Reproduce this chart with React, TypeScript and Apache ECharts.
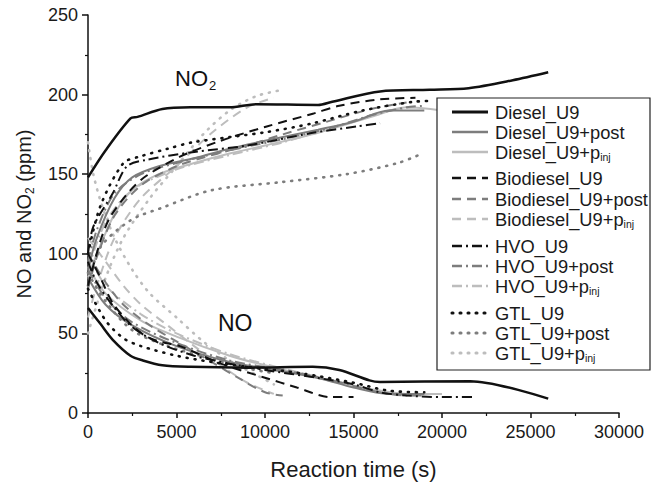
import React, { useEffect, useRef } from "react";
import * as echarts from "echarts";

type P = [number, number][];

// ---- Tick labels / axes ----
const xTicks = [0, 5000, 10000, 15000, 20000, 25000, 30000];
const yTicks = [0, 50, 100, 150, 200, 250];

// ---- Legend names (main part, subscript part) ----
const seriesNames: [string, string][] = [
  ["Diesel_U9", ""], ["Diesel_U9+post", ""], ["Diesel_U9+p", "inj"],
  ["Biodiesel_U9", ""], ["Biodiesel_U9+post", ""], ["Biodiesel_U9+p", "inj"],
  ["HVO_U9", ""], ["HVO_U9+post", ""], ["HVO_U9+p", "inj"],
  ["GTL_U9", ""], ["GTL_U9+post", ""], ["GTL_U9+p", "inj"],
];

// ---- NO2 curves (time s, ppm) ----
const dieselU9_NO2: P = [[0,148],[1000,165],[2400,185],[2800,186],[4200,191],[5800,192],[8000,192],[9500,194],[13000,193.5],[13800,195.5],[16500,202],[19300,203],[21500,204],[24000,209],[26000,214]];
const dieselPost_NO2: P = [[0,90],[500,110],[1500,135],[2500,148],[4000,155],[6000,160],[8000,166],[10000,171],[13000,178],[15000,183],[17000,190],[19000,190]];
const dieselPinj_NO2: P = [[0,85],[500,100],[1500,125],[2500,140],[4000,150],[6000,157],[8000,163],[10000,168],[13000,176],[16000,186],[18000,192],[20000,190]];
const bioU9_NO2: P = [[0,80],[700,108],[1250,123],[2400,140],[3300,149],[5200,161],[7500,171],[10100,180],[12700,188],[14200,193],[16500,197],[18500,198]];
const bioPost_NO2: P = [[0,78],[500,98],[1500,124],[3000,143],[5000,155],[7000,162],[9000,168],[11000,175],[13500,183],[16000,191],[18000,195]];
const bioPinj_NO2: P = [[0,60],[500,80],[1500,110],[3000,135],[5000,155],[7000,176],[9000,192],[10500,198]];
const hvoU9_NO2: P = [[0,100],[300,117],[1400,138],[2200,155],[3300,159],[6000,164],[9000,168],[12700,176],[15200,180],[16500,182]];
const hvoPost_NO2: P = [[0,95],[500,115],[1500,138],[3000,150],[5000,157],[8000,165],[11000,172],[14000,180],[16000,187],[18000,192],[19000,193]];
const hvoPinj_NO2: P = [[0,90],[1000,120],[2500,140],[5000,153],[8000,162],[11000,170],[14000,180],[17000,190],[18500,192]];
const gtlU9_NO2: P = [[0,100],[700,130],[2000,157],[2900,161],[4500,166],[5900,170],[10100,176.5],[12700,182],[15500,190],[18400,195.5],[19500,196]];
const gtlPost_NO2: P = [[0,80],[700,104],[2400,121],[4200,129],[7000,140],[10900,145],[14600,150],[17500,157],[18900,163]];
const gtlPinj_NO2: P = [[0,50],[1000,85],[2000,110],[3500,135],[5000,155],[6500,175],[8000,190],[9500,199],[11000,203]];

// ---- NO curves (time s, ppm) ----
const dieselU9_NO: P = [[0,66],[700,56],[1400,46],[2400,36],[3100,33],[4200,30],[5800,29],[9000,28.5],[12700,29],[14200,27],[15900,20.5],[16500,19.5],[21600,20],[26000,9]];
const dieselPost_NO: P = [[0,85],[1000,68],[2500,55],[5000,42],[8000,32],[10000,28],[13000,22],[15000,16],[17000,12],[19000,12]];
const dieselPinj_NO: P = [[0,92],[1000,75],[3000,58],[5000,48],[8000,36],[10000,30],[13000,22],[16000,15],[18000,12],[20000,12]];
const bioU9_NO: P = [[0,100],[700,85],[1400,69],[2400,56],[3300,48],[4200,44.5],[5200,42],[7500,31],[9900,22.5],[11800,16],[13700,10],[15000,10]];
const bioPost_NO: P = [[0,100],[1000,82],[2000,68],[3500,55],[5000,45],[7000,32],[8500,22],[10000,13],[11000,11]];
const bioPinj_NO: P = [[0,110],[1000,95],[2000,80],[3000,68],[4500,55],[6000,42],[7500,30],[9000,19],[10500,12]];
const hvoU9_NO: P = [[0,95],[500,82],[1500,66],[2500,54],[4000,44],[6000,36],[8000,31],[10000,27],[13000,22],[15000,18],[16500,13],[18000,11],[20000,10],[21800,10]];
const hvoPost_NO: P = [[0,90],[1000,72],[2500,57],[5000,44],[8000,33],[11000,27],[14000,20],[16000,14],[18000,11],[19000,11]];
const hvoPinj_NO: P = [[0,100],[1000,80],[3000,62],[5000,50],[8000,37],[11000,28],[14000,20],[16000,14],[18500,11]];
const gtlU9_NO: P = [[0,78],[1000,58],[2000,47],[3000,42],[5000,36],[7000,32],[9000,29],[12000,25],[15000,19],[17000,14],[19000,13]];
const gtlPost_NO: P = [[0,88],[1000,70],[2500,52],[4500,42],[7000,34],[9000,28],[10500,25]];
const gtlPinj_NO: P = [[0,170],[300,150],[800,130],[1500,110],[2500,90],[3500,75],[5000,60],[6500,45],[8000,33],[9500,24],[10500,18]];

const no2Data = [dieselU9_NO2, dieselPost_NO2, dieselPinj_NO2, bioU9_NO2, bioPost_NO2, bioPinj_NO2, hvoU9_NO2, hvoPost_NO2, hvoPinj_NO2, gtlU9_NO2, gtlPost_NO2, gtlPinj_NO2];
const noData = [dieselU9_NO, dieselPost_NO, dieselPinj_NO, bioU9_NO, bioPost_NO, bioPinj_NO, hvoU9_NO, hvoPost_NO, hvoPinj_NO, gtlU9_NO, gtlPost_NO, gtlPinj_NO];

const shades = ["#111111", "#7d7d7d", "#bdbdbd"];
const dashes: any[] = ["solid", [9, 6], [10, 4, 2, 4], [1, 7]];
const legendRows = [112, 132, 152, 178, 199, 219, 246, 266, 286, 313, 333, 353];

const FONT = "'Liberation Sans', Arial, sans-serif";
const TXT = "#1a1a1a";

export default function App() {
  const ref = useRef<HTMLDivElement>(null);
  useEffect(() => {
    if (!ref.current) return;
    const chart = echarts.init(ref.current, undefined, { renderer: "svg" });
    const series: any[] = [];
    const style = (i: number) => {
      const fuel = Math.floor(i / 3);
      const v = i % 3;
      return {
        color: shades[v],
        width: fuel === 0 && v === 0 ? 2.5 : fuel === 3 ? 2.6 : 2,
        type: dashes[fuel],
        cap: fuel === 3 ? "round" : "butt",
      };
    };
    const order = [2, 5, 8, 11, 1, 4, 7, 10, 0, 3, 6, 9];
    order.forEach((i) => {
      const ls = style(i);
      [no2Data[i], noData[i]].forEach((d, k) => {
        series.push({
          type: "line",
          name: seriesNames[i][0] + seriesNames[i][1] + (k === 0 ? " NO2" : " NO"),
          data: d,
          showSymbol: false,
          smooth: 0.3,
          lineStyle: ls,
          z: 2,
        });
      });
    });

    const graphics: any[] = [
      {
        type: "rect",
        shape: { x: 437, y: 98, width: 213, height: 272 },
        style: { fill: "#ffffff", stroke: "#222", lineWidth: 1.2 },
        z: 10,
      },
    ];
    const richLegend = {
      n: { fontFamily: FONT, fontSize: 18.3, fill: TXT, color: TXT },
      sub: { fontFamily: FONT, fontSize: 10.5, fill: TXT, color: TXT, padding: [10, 0, 0, 0] },
    };
    seriesNames.forEach(([main, sub], i) => {
      const ls = style(i);
      const y = legendRows[i];
      graphics.push({
        type: "line",
        shape: { x1: 452, y1: y, x2: 488, y2: y },
        style: {
          stroke: ls.color,
          lineWidth: ls.width + 0.5,
          lineDash: ls.type === "solid" ? null : ls.type,
          lineCap: ls.cap,
        },
        z: 11,
      });
      graphics.push({
        type: "text",
        x: 495,
        y: y,
        style: {
          text: sub ? `{n|${main}}{sub|${sub}}` : `{n|${main}}`,
          fontFamily: FONT,
          fontSize: 18.3,
          fill: TXT,
          verticalAlign: "middle",
          rich: richLegend,
        },
        z: 11,
      });
    });
    graphics.push({
      type: "text",
      x: 175,
      y: 78,
      style: {
        text: "{n|NO}{sub|2}",
        fill: "#111",
        verticalAlign: "middle",
        rich: {
          n: { fontFamily: FONT, fontSize: 22, fill: "#111" },
          sub: { fontFamily: FONT, fontSize: 13, fill: "#111", padding: [14, 0, 0, 1] },
        },
      },
    });
    graphics.push({
      type: "text",
      x: 218,
      y: 334,
      style: { text: "NO", fontFamily: FONT, fontSize: 23, fill: "#111", verticalAlign: "bottom" },
    });

    chart.setOption({
      animation: false,
      backgroundColor: "#ffffff",
      grid: { left: 88, right: 41, top: 15, bottom: 72 },
      xAxis: {
        type: "value",
        min: xTicks[0],
        max: xTicks[xTicks.length - 1],
        interval: xTicks[1] - xTicks[0],
        name: "Reaction time (s)",
        nameLocation: "middle",
        nameGap: 45,
        nameTextStyle: { fontFamily: FONT, fontSize: 22, color: TXT },
        axisLine: { lineStyle: { color: "#111", width: 1.5 } },
        axisTick: { length: 5, lineStyle: { color: "#111", width: 1.5 } },
        minorTick: { show: true, splitNumber: 2, length: 3, lineStyle: { color: "#111", width: 1.2 } },
        splitLine: { show: false },
        axisLabel: { fontFamily: FONT, fontSize: 18, color: TXT, margin: 10, formatter: (v: number) => String(v) },
      },
      yAxis: {
        type: "value",
        min: yTicks[0],
        max: yTicks[yTicks.length - 1],
        interval: yTicks[1] - yTicks[0],
        name: "{n|NO and NO}{sub|2}{n| (ppm)}",
        nameLocation: "middle",
        nameGap: 52,
        nameTextStyle: {
          fontFamily: FONT,
          fontSize: 20,
          color: TXT,
          rich: {
            n: { fontFamily: FONT, fontSize: 20, color: TXT },
            sub: { fontFamily: FONT, fontSize: 12, color: TXT, padding: [12, 0, 0, 0] },
          },
        },
        axisLine: { show: true, lineStyle: { color: "#111", width: 1.5 } },
        axisTick: { show: true, length: 6, lineStyle: { color: "#111", width: 1.5 } },
        minorTick: { show: true, splitNumber: 2, length: 3, lineStyle: { color: "#111", width: 1.2 } },
        splitLine: { show: false },
        axisLabel: { fontFamily: FONT, fontSize: 18, color: TXT, margin: 10, formatter: (v: number) => String(v) },
      },
      series,
      graphic: graphics,
    });
    return () => chart.dispose();
  }, []);
  return (
    <div
      ref={ref}
      style={{ position: "fixed", left: 0, top: 0, width: 660, height: 485, background: "#fff" }}
    />
  );
}
